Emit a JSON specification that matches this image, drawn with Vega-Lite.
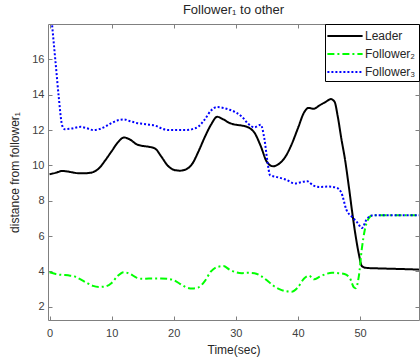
{
  "$schema": "https://vega.github.io/schema/vega-lite/v6.json",
  "width": 371,
  "height": 296,
  "autosize": "none",
  "padding": {"left": 48, "top": 24, "right": 1, "bottom": 42},
  "background": "white",
  "config": {
    "font": "Liberation Sans",
    "view": {"stroke": null},
    "axis": {"grid": false, "domainColor": "#808080", "tickColor": "#808080", "labelColor": "#404040", "titleColor": "#262626", "labelFontSize": 11, "titleFontSize": 12, "titleFontWeight": "normal", "tickSize": -4, "labelPadding": 8, "domainWidth": 1},
    "legend": {"orient": "top-right", "offset": 0, "strokeColor": "#000000", "fillColor": "white", "padding": 3, "symbolType": "M-2.2,0H2.2", "symbolSize": 256, "symbolStrokeWidth": 2, "symbolOffset": 8, "labelFontSize": 12, "labelColor": "#262626", "rowPadding": 3, "labelOffset": 11}
  },
  "title": {"text": "Follower\u2081 to other", "fontSize": 13, "fontWeight": "normal", "color": "#262626", "offset": -20, "anchor": "middle"},
  "data": {"values": [
    {"t":0,"v":9.5,"s":"Leader"},{"t":1,"v":9.58,"s":"Leader"},{"t":2,"v":9.68,"s":"Leader"},{"t":3,"v":9.65,"s":"Leader"},{"t":4,"v":9.58,"s":"Leader"},{"t":5,"v":9.55,"s":"Leader"},{"t":6,"v":9.56,"s":"Leader"},{"t":7,"v":9.62,"s":"Leader"},{"t":8,"v":9.85,"s":"Leader"},{"t":9,"v":10.3,"s":"Leader"},{"t":10,"v":10.8,"s":"Leader"},{"t":11,"v":11.3,"s":"Leader"},{"t":12,"v":11.58,"s":"Leader"},{"t":13,"v":11.45,"s":"Leader"},{"t":14,"v":11.2,"s":"Leader"},{"t":15,"v":11.1,"s":"Leader"},{"t":16,"v":11.05,"s":"Leader"},{"t":17,"v":10.95,"s":"Leader"},{"t":18,"v":10.5,"s":"Leader"},{"t":19,"v":10.0,"s":"Leader"},{"t":20,"v":9.75,"s":"Leader"},{"t":21,"v":9.7,"s":"Leader"},{"t":22,"v":9.78,"s":"Leader"},{"t":23,"v":10.1,"s":"Leader"},{"t":24,"v":10.8,"s":"Leader"},{"t":25,"v":11.6,"s":"Leader"},{"t":26,"v":12.3,"s":"Leader"},{"t":27,"v":12.75,"s":"Leader"},{"t":28,"v":12.6,"s":"Leader"},{"t":29,"v":12.4,"s":"Leader"},{"t":30,"v":12.3,"s":"Leader"},{"t":31,"v":12.25,"s":"Leader"},{"t":32,"v":12.15,"s":"Leader"},{"t":33,"v":11.85,"s":"Leader"},{"t":34,"v":11.1,"s":"Leader"},{"t":35,"v":10.2,"s":"Leader"},{"t":36,"v":9.95,"s":"Leader"},{"t":37,"v":10.1,"s":"Leader"},{"t":38,"v":10.5,"s":"Leader"},{"t":39,"v":11.2,"s":"Leader"},{"t":40,"v":12.1,"s":"Leader"},{"t":41,"v":13.0,"s":"Leader"},{"t":41.7,"v":13.25,"s":"Leader"},{"t":42.5,"v":13.2,"s":"Leader"},{"t":43.5,"v":13.4,"s":"Leader"},{"t":44.5,"v":13.6,"s":"Leader"},{"t":45.3,"v":13.75,"s":"Leader"},{"t":45.9,"v":13.6,"s":"Leader"},{"t":46.4,"v":12.8,"s":"Leader"},{"t":47,"v":11.5,"s":"Leader"},{"t":47.6,"v":10.3,"s":"Leader"},{"t":48.2,"v":8.8,"s":"Leader"},{"t":48.8,"v":7.2,"s":"Leader"},{"t":49.3,"v":6.0,"s":"Leader"},{"t":49.8,"v":5.0,"s":"Leader"},{"t":50.3,"v":4.3,"s":"Leader"},{"t":51,"v":4.2,"s":"Leader"},{"t":53,"v":4.17,"s":"Leader"},{"t":55,"v":4.15,"s":"Leader"},{"t":58,"v":4.12,"s":"Leader"},{"t":59.5,"v":4.1,"s":"Leader"},
    {"t":0,"v":3.95,"s":"Follower\u2082"},{"t":1,"v":3.85,"s":"Follower\u2082"},{"t":2,"v":3.8,"s":"Follower\u2082"},{"t":3,"v":3.78,"s":"Follower\u2082"},{"t":4,"v":3.72,"s":"Follower\u2082"},{"t":5,"v":3.55,"s":"Follower\u2082"},{"t":6,"v":3.35,"s":"Follower\u2082"},{"t":7,"v":3.18,"s":"Follower\u2082"},{"t":8,"v":3.12,"s":"Follower\u2082"},{"t":9,"v":3.15,"s":"Follower\u2082"},{"t":10,"v":3.35,"s":"Follower\u2082"},{"t":11,"v":3.75,"s":"Follower\u2082"},{"t":12,"v":3.95,"s":"Follower\u2082"},{"t":13,"v":3.85,"s":"Follower\u2082"},{"t":14,"v":3.65,"s":"Follower\u2082"},{"t":15,"v":3.58,"s":"Follower\u2082"},{"t":16,"v":3.6,"s":"Follower\u2082"},{"t":17,"v":3.6,"s":"Follower\u2082"},{"t":18,"v":3.6,"s":"Follower\u2082"},{"t":19,"v":3.58,"s":"Follower\u2082"},{"t":20,"v":3.5,"s":"Follower\u2082"},{"t":21,"v":3.3,"s":"Follower\u2082"},{"t":22,"v":3.1,"s":"Follower\u2082"},{"t":23,"v":3.03,"s":"Follower\u2082"},{"t":24,"v":3.1,"s":"Follower\u2082"},{"t":25,"v":3.45,"s":"Follower\u2082"},{"t":26,"v":4.0,"s":"Follower\u2082"},{"t":27,"v":4.25,"s":"Follower\u2082"},{"t":28,"v":4.3,"s":"Follower\u2082"},{"t":29,"v":4.1,"s":"Follower\u2082"},{"t":30,"v":3.95,"s":"Follower\u2082"},{"t":31,"v":3.9,"s":"Follower\u2082"},{"t":32,"v":3.92,"s":"Follower\u2082"},{"t":33,"v":3.9,"s":"Follower\u2082"},{"t":34,"v":3.75,"s":"Follower\u2082"},{"t":35,"v":3.5,"s":"Follower\u2082"},{"t":36,"v":3.2,"s":"Follower\u2082"},{"t":37,"v":3.0,"s":"Follower\u2082"},{"t":38,"v":2.88,"s":"Follower\u2082"},{"t":39,"v":2.85,"s":"Follower\u2082"},{"t":40,"v":3.1,"s":"Follower\u2082"},{"t":41,"v":3.6,"s":"Follower\u2082"},{"t":41.8,"v":3.75,"s":"Follower\u2082"},{"t":42.6,"v":3.55,"s":"Follower\u2082"},{"t":43.5,"v":3.7,"s":"Follower\u2082"},{"t":44.5,"v":3.85,"s":"Follower\u2082"},{"t":45.5,"v":3.92,"s":"Follower\u2082"},{"t":46.5,"v":3.9,"s":"Follower\u2082"},{"t":47.5,"v":3.85,"s":"Follower\u2082"},{"t":48.4,"v":3.6,"s":"Follower\u2082"},{"t":49,"v":3.1,"s":"Follower\u2082"},{"t":49.3,"v":3.05,"s":"Follower\u2082"},{"t":49.8,"v":3.7,"s":"Follower\u2082"},{"t":50.3,"v":5.3,"s":"Follower\u2082"},{"t":50.8,"v":6.4,"s":"Follower\u2082"},{"t":51.4,"v":7.0,"s":"Follower\u2082"},{"t":52,"v":7.17,"s":"Follower\u2082"},{"t":55,"v":7.18,"s":"Follower\u2082"},{"t":59.5,"v":7.18,"s":"Follower\u2082"},
    {"t":0,"v":19.5,"s":"Follower\u2083"},{"t":0.5,"v":17.6,"s":"Follower\u2083"},{"t":1.0,"v":15.7,"s":"Follower\u2083"},{"t":1.5,"v":13.8,"s":"Follower\u2083"},{"t":2.0,"v":12.3,"s":"Follower\u2083"},{"t":2.4,"v":12.05,"s":"Follower\u2083"},{"t":3.5,"v":12.08,"s":"Follower\u2083"},{"t":5,"v":12.18,"s":"Follower\u2083"},{"t":6,"v":12.1,"s":"Follower\u2083"},{"t":7,"v":12.0,"s":"Follower\u2083"},{"t":8,"v":12.05,"s":"Follower\u2083"},{"t":9,"v":12.2,"s":"Follower\u2083"},{"t":10,"v":12.4,"s":"Follower\u2083"},{"t":11,"v":12.55,"s":"Follower\u2083"},{"t":12,"v":12.6,"s":"Follower\u2083"},{"t":13,"v":12.5,"s":"Follower\u2083"},{"t":14,"v":12.4,"s":"Follower\u2083"},{"t":15,"v":12.35,"s":"Follower\u2083"},{"t":16,"v":12.3,"s":"Follower\u2083"},{"t":17,"v":12.25,"s":"Follower\u2083"},{"t":18,"v":12.1,"s":"Follower\u2083"},{"t":19,"v":12.0,"s":"Follower\u2083"},{"t":20,"v":12.0,"s":"Follower\u2083"},{"t":21,"v":12.0,"s":"Follower\u2083"},{"t":22,"v":12.0,"s":"Follower\u2083"},{"t":23,"v":12.05,"s":"Follower\u2083"},{"t":24,"v":12.2,"s":"Follower\u2083"},{"t":25,"v":12.6,"s":"Follower\u2083"},{"t":26,"v":13.1,"s":"Follower\u2083"},{"t":27,"v":13.3,"s":"Follower\u2083"},{"t":28,"v":13.25,"s":"Follower\u2083"},{"t":29,"v":13.15,"s":"Follower\u2083"},{"t":30,"v":13.0,"s":"Follower\u2083"},{"t":31,"v":12.75,"s":"Follower\u2083"},{"t":32,"v":12.35,"s":"Follower\u2083"},{"t":33,"v":12.15,"s":"Follower\u2083"},{"t":34,"v":12.3,"s":"Follower\u2083"},{"t":34.6,"v":11.5,"s":"Follower\u2083"},{"t":35.1,"v":10.2,"s":"Follower\u2083"},{"t":35.5,"v":9.45,"s":"Follower\u2083"},{"t":36.5,"v":9.35,"s":"Follower\u2083"},{"t":38,"v":9.2,"s":"Follower\u2083"},{"t":39.5,"v":8.98,"s":"Follower\u2083"},{"t":40.5,"v":9.05,"s":"Follower\u2083"},{"t":41.5,"v":9.1,"s":"Follower\u2083"},{"t":42.5,"v":8.85,"s":"Follower\u2083"},{"t":43.5,"v":8.78,"s":"Follower\u2083"},{"t":45,"v":8.8,"s":"Follower\u2083"},{"t":46.3,"v":8.72,"s":"Follower\u2083"},{"t":47,"v":8.45,"s":"Follower\u2083"},{"t":47.8,"v":7.5,"s":"Follower\u2083"},{"t":48.8,"v":7.05,"s":"Follower\u2083"},{"t":49.6,"v":6.75,"s":"Follower\u2083"},{"t":50.3,"v":6.45,"s":"Follower\u2083"},{"t":51,"v":6.9,"s":"Follower\u2083"},{"t":51.5,"v":7.1,"s":"Follower\u2083"},{"t":52,"v":7.17,"s":"Follower\u2083"},{"t":55,"v":7.18,"s":"Follower\u2083"},{"t":59.5,"v":7.18,"s":"Follower\u2083"}
  ]},
  "layer": [
    {
      "mark": {"type": "line", "clip": true, "strokeWidth": 2, "interpolate": "monotone"},
      "encoding": {
        "x": {"field": "t", "type": "quantitative", "scale": {"domain": [-0.25, 59.5], "nice": false, "zero": false}, "axis": {"orient": "bottom", "title": "Time(sec)", "values": [0,10,20,30,40,50,60], "labelPadding": 11, "titlePadding": 6}},
        "y": {"field": "v", "type": "quantitative", "scale": {"domain": [1.25, 18], "nice": false, "zero": false}, "axis": {"orient": "left", "title": "distance from follower\u2081", "values": [2,4,6,8,10,12,14,16], "titlePadding": 10}},
        "color": {"field": "s", "type": "nominal", "scale": {"domain": ["Leader", "Follower\u2082", "Follower\u2083"], "range": ["#000000", "#00ff00", "#0000ff"]}, "legend": {"title": null}},
        "strokeDash": {"field": "s", "type": "nominal", "scale": {"domain": ["Leader", "Follower\u2082", "Follower\u2083"], "range": [[1,0],[7,3,2,3],[2,2]]}, "legend": {"title": null}},
        "order": {"field": "t", "type": "quantitative"}
      }
    },
    {
      "mark": {"type": "line", "opacity": 0},
      "encoding": {
        "x": {"field": "t", "type": "quantitative", "axis": {"orient": "top", "labels": false, "title": null, "values": [0,10,20,30,40,50,60]}},
        "y": {"field": "v", "type": "quantitative", "axis": {"orient": "right", "labels": false, "title": null, "values": [2,4,6,8,10,12,14,16]}},
        "detail": {"field": "s"}
      }
    }
  ],
  "resolve": {"axis": {"x": "independent", "y": "independent"}}
}
